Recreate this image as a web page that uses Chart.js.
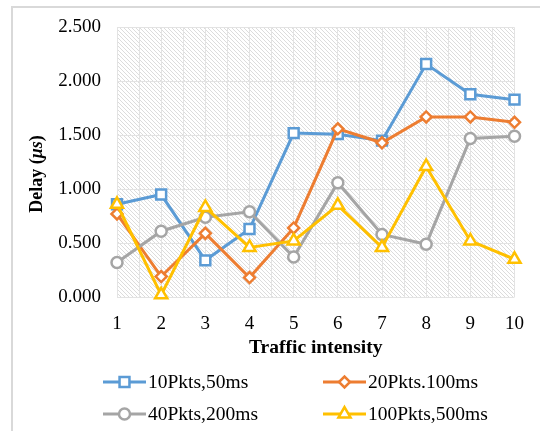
<!DOCTYPE html>
<html>
<head>
<meta charset="utf-8">
<script src="https://cdn.jsdelivr.net/npm/chart.js@4/dist/chart.umd.min.js"></script>
<style>
  html, body { margin: 0; padding: 0; background: #fff; }
  #wrap { width: 540px; height: 431px; position: relative; }
</style>
</head>
<body>
<div id="wrap"><canvas id="mychart" width="540" height="431"></canvas></div>
<script>
// data
const categories = [1, 2, 3, 4, 5, 6, 7, 8, 9, 10];
const seriesNames = ['10Pkts,50ms', '20Pkts.100ms', '40Pkts,200ms', '100Pkts,500ms'];
const pkts10 = [0.86, 0.95, 0.34, 0.63, 1.52, 1.51, 1.45, 2.16, 1.88, 1.83];
const pkts20 = [0.77, 0.19, 0.59, 0.18, 0.64, 1.56, 1.43, 1.67, 1.67, 1.62];
const pkts40 = [0.32, 0.61, 0.74, 0.79, 0.37, 1.06, 0.58, 0.49, 1.47, 1.49];
const pkts100 = [0.86, 0.02, 0.83, 0.46, 0.52, 0.85, 0.46, 1.21, 0.52, 0.35];
const yTicks = [0, 0.5, 1.0, 1.5, 2.0, 2.5];

const colors = ['#5B9BD5', '#ED7D31', '#A5A5A5', '#FFC000'];
const styles = ['rect', 'rectRot', 'circle', 'triangle'];
const radii = [7, 5.5, 5.5, 7];
const allSeries = [pkts10, pkts20, pkts40, pkts100];
const serif = '"Liberation Serif", "Times New Roman", serif';

function makeSet(i) {
  return {
    label: seriesNames[i],
    data: categories.map((c, k) => ({x: c, y: allSeries[i][k]})),
    borderColor: colors[i],
    backgroundColor: '#fff',
    borderWidth: 3,
    pointStyle: styles[i],
    pointRadius: radii[i],
    pointBorderWidth: 2.5,
    pointBackgroundColor: '#fff',
    pointBorderColor: colors[i],
    tension: 0,
    clip: false,
    order: 4 - i
  };
}

// hatched plot background + outer frame
const hatch = document.createElement('canvas');
hatch.width = 4; hatch.height = 4;
const hc = hatch.getContext('2d');
hc.fillStyle = '#fff'; hc.fillRect(0, 0, 4, 4);
hc.fillStyle = '#dcdcdc';
for (let i = 0; i < 4; i++) hc.fillRect(i, i, 1, 1);

const bgPlugin = {
  id: 'bg',
  beforeDraw(chart) {
    const ctx = chart.ctx, a = chart.chartArea;
    ctx.save();
    ctx.fillStyle = '#fff';
    ctx.fillRect(0, 0, chart.width, chart.height);
    ctx.strokeStyle = '#d9d9d9';
    ctx.lineWidth = 2;
    ctx.beginPath();
    ctx.moveTo(12, chart.height);
    ctx.lineTo(12, 7);
    ctx.lineTo(chart.width, 7);
    ctx.stroke();
    ctx.fillStyle = ctx.createPattern(hatch, 'repeat');
    ctx.fillRect(a.left, a.top, a.right - a.left, a.bottom - a.top);
    ctx.restore();
  }
};

// y title with italic unit, and line+marker legend
const extrasPlugin = {
  id: 'extras',
  afterDraw(chart) {
    const ctx = chart.ctx;
    ctx.save();
    // y title
    ctx.translate(37, 174);
    ctx.rotate(-Math.PI / 2);
    ctx.fillStyle = '#000';
    ctx.textBaseline = 'middle';
    const parts = [['Delay (', 'bold 18px ' + serif], ['\u03bcs', 'italic bold 18px ' + serif], [')', 'bold 18px ' + serif]];
    let w = 0;
    parts.forEach(p => { ctx.font = p[1]; w += ctx.measureText(p[0]).width; });
    let x = -w / 2;
    parts.forEach(p => { ctx.font = p[1]; ctx.fillText(p[0], x, 0); x += ctx.measureText(p[0]).width; });
    ctx.restore();

    // legend
    const cols = [103, 323];
    const rows = [382, 414];
    ctx.save();
    for (let i = 0; i < 4; i++) {
      const lx = cols[i % 2], ly = rows[Math.floor(i / 2)];
      ctx.strokeStyle = colors[i];
      ctx.lineWidth = 3;
      ctx.beginPath();
      ctx.moveTo(lx, ly); ctx.lineTo(lx + 43, ly);
      ctx.stroke();
      ctx.fillStyle = '#fff';
      ctx.lineWidth = 2.5;
      Chart.helpers.drawPoint(ctx, {pointStyle: styles[i], radius: radii[i], rotation: 0, borderWidth: 2.5}, lx + 21.5, ly);
      ctx.fillStyle = '#000';
      ctx.font = '19.5px ' + serif;
      ctx.textBaseline = 'middle';
      ctx.fillText(seriesNames[i], lx + 45, ly + 1);
    }
    ctx.restore();
  }
};

const a = document.getElementById('mychart').getContext('2d');
const mychart = new Chart(a, {
  type: 'line',
  data: { datasets: [0, 1, 2, 3].map(makeSet) },
  options: {
    responsive: false,
    animation: false,
    layout: { padding: { left: 0, right: 16, top: 23, bottom: 71 } },
    plugins: { legend: { display: false }, tooltip: { enabled: false } },
    scales: {
      x: {
        type: 'linear',
        min: categories[0], max: categories[categories.length - 1],
        afterFit(s) { s.height = 63; },
        afterBuildTicks(s) {
          const t = [];
          for (let v = categories[0]; v <= categories[categories.length - 1]; v += 0.5) t.push({value: v});
          s.ticks = t;
        },
        grid: { color: '#e3e3e3', lineWidth: 1, drawTicks: false },
        border: { display: false },
        ticks: {
          autoSkip: false, maxRotation: 0, padding: 16, color: '#000',
          font: { family: serif, size: 19 },
          callback: v => Number.isInteger(v) ? String(v) : ''
        },
        title: {
          display: true, text: 'Traffic intensity', color: '#000',
          font: { family: serif, size: 19.5, weight: 'bold' },
          padding: { top: 0, bottom: 0 }
        }
      },
      y: {
        min: 0, max: 2.5,
        afterFit(s) { s.width = 117; },
        afterBuildTicks(s) { s.ticks = yTicks.map(v => ({value: v})); },
        grid: { color: '#e3e3e3', lineWidth: 1, drawTicks: false },
        border: { display: false },
        ticks: {
          padding: 16, color: '#000',
          font: { family: serif, size: 19 },
          callback: v => v.toFixed(3)
        }
      }
    }
  },
  plugins: [bgPlugin, extrasPlugin]
});
</script>
</body>
</html>
